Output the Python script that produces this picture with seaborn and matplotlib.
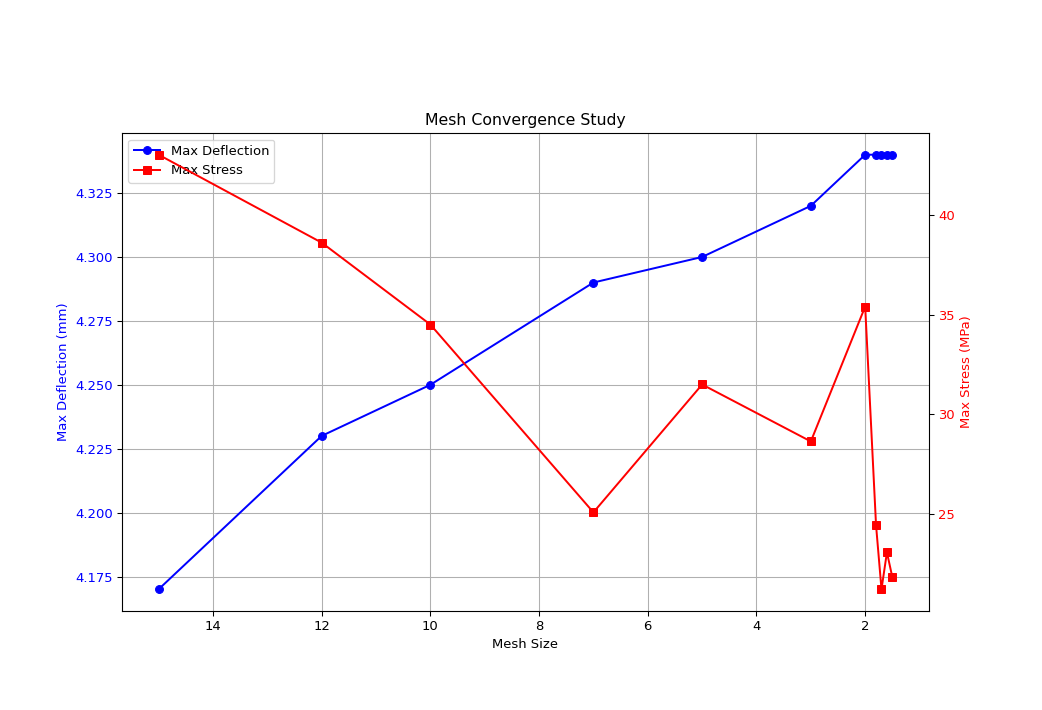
import numpy as np
import pandas as pd
import matplotlib
matplotlib.use('Agg')
import matplotlib.pyplot as plt
import seaborn as sns

mesh_size = [15, 12, 10, 7, 5, 3, 2, 1.8, 1.7, 1.6, 1.5]
max_deflection = [4.17, 4.23, 4.25, 4.29, 4.30, 4.32, 4.34, 4.34, 4.34, 4.34, 4.34]
max_stress = [43.0, 38.6, 34.5, 25.1, 31.5, 28.65, 35.4, 24.45, 21.25, 23.1, 21.85]

df = pd.DataFrame({'mesh': mesh_size, 'defl': max_deflection, 'stress': max_stress})

dpi = 1042 / 11
fig, ax1 = plt.subplots(figsize=(11, 710 / dpi), dpi=dpi)
fig.subplots_adjust(left=0.117, right=0.8916, top=0.8127, bottom=0.1394)

sns.lineplot(data=df, x='mesh', y='defl', ax=ax1, color='blue', marker='o',
             markersize=6, markeredgecolor='blue', sort=False, label='Max Deflection')
ax1.set_xlabel('Mesh Size')
ax1.set_ylabel('Max Deflection (mm)', color='blue')
ax1.tick_params(axis='y', labelcolor='blue')
ax1.invert_xaxis()
ax1.grid(True)

ax2 = ax1.twinx()
sns.lineplot(data=df, x='mesh', y='stress', ax=ax2, color='red', marker='s',
             markersize=6, markeredgecolor='red', sort=False, label='Max Stress')
ax2.set_ylabel('Max Stress (MPa)', color='red')
ax2.tick_params(axis='y', labelcolor='red')

h1, l1 = ax1.get_legend_handles_labels()
h2, l2 = ax2.get_legend_handles_labels()
if ax2.get_legend() is not None:
    ax2.get_legend().remove()
ax1.legend(h1 + h2, l1 + l2, loc='upper left')

ax1.set_title('Mesh Convergence Study')
plt.savefig('out.png', dpi=dpi)
